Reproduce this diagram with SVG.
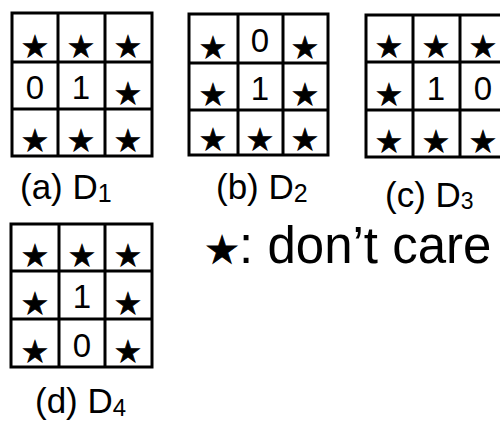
<svg xmlns="http://www.w3.org/2000/svg" width="500" height="425" viewBox="0 0 500 425">
<style>
.g{fill:none;stroke:#000;stroke-width:3}
.s{font-family:"DejaVu Sans",sans-serif;font-size:30px;text-anchor:middle;fill:#000;stroke:#000;stroke-width:0.8}
.n{font-family:"Liberation Sans",Arial,sans-serif;font-size:33px;text-anchor:middle;fill:#000}
.l{font-family:"Liberation Sans",Arial,sans-serif;font-size:35px;fill:#000}
</style>
<rect width="500" height="425" fill="#fff"/>
<g id="gridA">
<rect class="g" x="12" y="13" width="140" height="143"/>
<path class="g" d="M58 13V156M105 13V156M12 62H152M12 109H152"/>
<text class="s" x="35" y="57">★</text><text class="s" x="81" y="57">★</text><text class="s" x="128" y="57">★</text>
<text class="n" x="35" y="99">0</text><text class="n" x="81" y="99">1</text><text class="s" x="128" y="104">★</text>
<text class="s" x="35" y="151">★</text><text class="s" x="81" y="151">★</text><text class="s" x="128" y="151">★</text>
<text class="l" x="20" y="199">(a) D<tspan font-size="25" dy="3">1</tspan></text>
</g>
<g id="gridB">
<rect class="g" x="189" y="14" width="139" height="141"/>
<path class="g" d="M238 14V155M283 14V155M189 63H328M189 110H328"/>
<text class="s" x="213" y="58">★</text><text class="n" x="260" y="52">0</text><text class="s" x="305" y="58">★</text>
<text class="s" x="213" y="105">★</text><text class="n" x="260" y="100">1</text><text class="s" x="305" y="105">★</text>
<text class="s" x="213" y="150">★</text><text class="s" x="260" y="150">★</text><text class="s" x="305" y="150">★</text>
<text class="l" x="216" y="199">(b) D<tspan font-size="25" dy="3">2</tspan></text>
</g>
<g id="gridC">
<rect class="g" x="366" y="15" width="141" height="142"/>
<path class="g" d="M413 15V157M460 15V157M366 62H507M366 110H507"/>
<text class="s" x="389" y="57">★</text><text class="s" x="436" y="57">★</text><text class="s" x="483" y="57">★</text>
<text class="s" x="389" y="105">★</text><text class="n" x="436" y="100">1</text><text class="n" x="483" y="100">0</text>
<text class="s" x="389" y="152">★</text><text class="s" x="436" y="152">★</text><text class="s" x="483" y="152">★</text>
<text class="l" x="385" y="207" font-size="31">(c) D<tspan font-size="23" dy="2">3</tspan></text>
</g>
<g id="gridD">
<rect class="g" x="11" y="224" width="141" height="143"/>
<path class="g" d="M59 224V367M105 224V367M11 271H152M11 319H152"/>
<text class="s" x="35" y="266">★</text><text class="s" x="82" y="266">★</text><text class="s" x="128" y="266">★</text>
<text class="s" x="35" y="314">★</text><text class="n" x="82" y="308">1</text><text class="s" x="128" y="314">★</text>
<text class="s" x="35" y="362">★</text><text class="n" x="82" y="357">0</text><text class="s" x="128" y="362">★</text>
<text class="l" x="35" y="413" font-size="33">(d) D<tspan font-size="24" dy="3">4</tspan></text>
</g>
<g id="legend">
<text x="205" y="263" font-family="Liberation Sans,Arial,sans-serif" font-size="51" fill="#000"><tspan font-family="DejaVu Sans,sans-serif" font-size="38" stroke="#000" stroke-width="1">★</tspan>: don’t care</text>
</g>
</svg>
